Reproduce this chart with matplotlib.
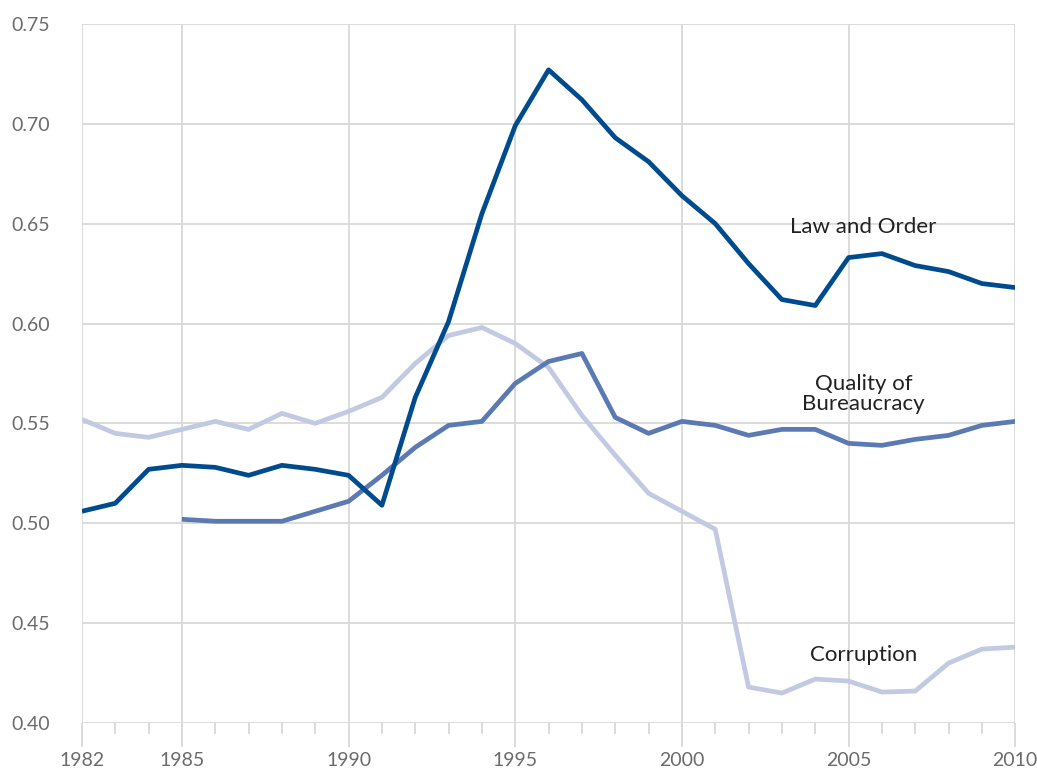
import matplotlib
matplotlib.use("Agg")
import matplotlib.pyplot as plt
from matplotlib.ticker import MultipleLocator, FixedLocator

plt.rcParams['font.family'] = ['Lato', 'DejaVu Sans']

years = list(range(1982, 2011))
law_order = [0.506, 0.510, 0.527, 0.529, 0.528, 0.524, 0.529, 0.527, 0.524, 0.509,
             0.563, 0.601, 0.655, 0.699, 0.727, 0.712, 0.693, 0.681, 0.664, 0.650,
             0.630, 0.612, 0.609, 0.633, 0.635, 0.629, 0.626, 0.620, 0.618]
bureau_years = list(range(1985, 2011))
bureaucracy = [0.502, 0.501, 0.501, 0.501, 0.506, 0.511, 0.524, 0.538, 0.549, 0.551,
               0.570, 0.581, 0.585, 0.553, 0.545, 0.551, 0.549, 0.544, 0.547, 0.547,
               0.540, 0.539, 0.542, 0.544, 0.549, 0.551]
corruption = [0.552, 0.545, 0.543, 0.547, 0.551, 0.547, 0.555, 0.550, 0.556, 0.563,
              0.580, 0.594, 0.598, 0.590, 0.578, 0.554, 0.534, 0.515, 0.506, 0.497,
              0.418, 0.415, 0.422, 0.421, 0.4155, 0.416, 0.430, 0.437, 0.438]
major_years = [1982, 1985, 1990, 1995, 2000, 2005, 2010]
y_ticks = [0.40, 0.45, 0.50, 0.55, 0.60, 0.65, 0.70, 0.75]

fig = plt.figure(figsize=(10.37, 7.70), dpi=100)
ax = fig.add_axes([0.079, 0.061, 0.900, 0.908])

grid_c = '#d9d9d9'
for yv in y_ticks:
    ax.axhline(yv, color=grid_c, lw=1.3, zorder=1)
for xv in major_years:
    ax.axvline(xv, color=grid_c, lw=1.3, zorder=1)

lw = 3.4
ax.plot(years, corruption, color='#c2c9e2', lw=lw, zorder=3, solid_capstyle='butt')
ax.plot(bureau_years, bureaucracy, color='#5b79b2', lw=lw, zorder=4, solid_capstyle='butt')
ax.plot(years, law_order, color='#004b8d', lw=lw, zorder=5, solid_capstyle='butt')

tc = '#222222'
ax.text(2005.45, 0.6485, 'Law and Order', ha='center', va='center', fontsize=16, color=tc)
ax.text(2005.45, 0.5645, 'Quality of\nBureaucracy', ha='center', va='center', fontsize=16,
        color=tc, linespacing=1.0)
ax.text(2005.45, 0.434, 'Corruption', ha='center', va='center', fontsize=16, color=tc)

ax.set_xlim(1982, 2010)
ax.set_ylim(0.40, 0.75)
for s in ax.spines.values():
    s.set_visible(False)

ax.xaxis.set_major_locator(FixedLocator(major_years))
ax.xaxis.set_minor_locator(MultipleLocator(1))
ax.set_xticklabels([str(y) for y in major_years])
ax.yaxis.set_major_locator(FixedLocator(y_ticks))
ax.set_yticklabels([f'{v:.2f}' for v in y_ticks])

ax.tick_params(axis='x', which='major', length=17, width=1.3, color=grid_c,
               labelsize=14, labelcolor='#6b6b6b', pad=4)
ax.tick_params(axis='x', which='minor', length=8, width=1.3, color=grid_c)
ax.tick_params(axis='y', which='major', length=0, labelsize=14, labelcolor='#6b6b6b', pad=23)

fig.savefig('out.png', dpi=100)
